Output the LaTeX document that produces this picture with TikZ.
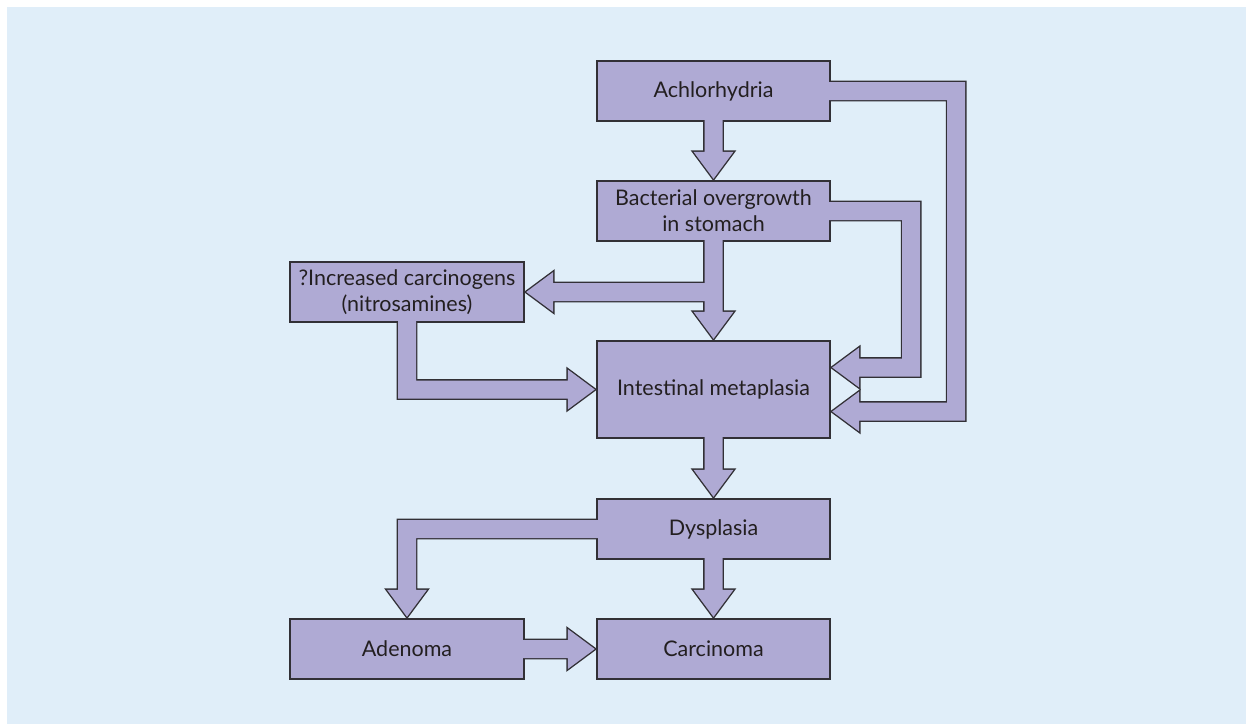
\documentclass[tikz,border=0pt]{standalone}
\usepackage{fontspec}
\setmainfont{Lato}
\usetikzlibrary{calc,backgrounds}
\definecolor{panelblue}{RGB}{224,238,249}
\definecolor{boxlilac}{RGB}{175,170,212}
\definecolor{edgegray}{RGB}{50,48,54}
\definecolor{inkgray}{RGB}{35,31,32}
\tikzset{
    box/.style={rectangle,draw=none,inner sep=0pt,minimum width=231,minimum height=58,
        align=center,text=inkgray,font=\fontsize{21.5}{26}\selectfont},
    outline/.style={draw=edgegray,line width=2.8pt,line join=miter},
    fillin/.style={fill=boxlilac},
    }
% block arrow going straight down from #2 to #3
\newcommand{\downblock}[3]{%
    \path[#1] ($(#3.north)+(0,-3)$) -- ++(-20,-27) -- ++(11,0)
        -- ($(#2.south)+(-9,-3)$) -- ++(18,0)
        -- ($(#3.north)+(9,-30)$) -- ++(11,0) -- cycle;}
% block arrow going straight right from #2 to #3
\newcommand{\rightblock}[3]{%
    \path[#1] ($(#3.west)+(-3,0)$) -- ++(-27,-20) -- ++(0,11)
        -- ($(#2.east)+(-3,-9)$) -- ++(0,18)
        -- ($(#3.west)+(-30,9)$) -- ++(0,11) -- cycle;}

\begin{document}
\begin{tikzpicture}[x=1pt,y=-1pt]
    \useasboundingbox (0,0) rectangle (1246,724);

    \node[box] (achl) at (713.5,91) {Achlorhydria};
    \node[box] (bact) at (713.5,211) {Bacterial overgrowth\\in stomach};
    \node[box,minimum width=232] (incr) at (407,292) {?Increased carcinogens\\(nitrosamines)};
    \node[box,minimum height=95] (intm) at (713.5,389.5) {Intestinal metaplasia};
    \node[box] (dysp) at (713.5,529) {Dysplasia};
    \node[box,minimum width=232] (aden) at (407,649) {Adenoma};
    \node[box] (carc) at (713.5,649) {Carcinoma};

    % arrow tips on the side of intestinal metaplasia
    \coordinate (tb) at ($(intm.east)+(3,-22)$);
    \coordinate (ta) at ($(intm.east)+(3,22)$);
    \coordinate (ti) at ($(incr.east)+(3,0)$);
    \coordinate (tm) at ($(intm.west)+(-3,0)$);
    \coordinate (td) at ($(aden.north)+(0,-3)$);

    \begin{scope}[on background layer]
    \fill[panelblue] (7,7) rectangle (1246,724);
    \foreach \layer in {outline,fillin}{
        \foreach \n in {achl,bact,incr,intm,dysp,aden,carc}
            \path[\layer] (\n.south west) rectangle (\n.north east);

        \downblock{\layer}{achl}{bact}
        \downblock{\layer}{bact}{intm}
        \downblock{\layer}{intm}{dysp}
        \downblock{\layer}{dysp}{carc}
        \rightblock{\layer}{aden}{carc}

        % bacterial overgrowth -> carcinogens
        \path[\layer] (ti) -- ++(27,-20) -- ++(0,11) -- ($(bact.south |- ti)+(0,-9)$)
            -- ++(0,18) -- ($(ti)+(27,9)$) -- ++(0,11) -- cycle;
        % carcinogens -> intestinal metaplasia
        \path[\layer] (tm) -- ++(-27,-20) -- ++(0,11) -| ($(incr.south)+(9,-3)$)
            -- ++(-18,0) |- ($(tm)+(-27,9)$) -- ++(0,11) -- cycle;
        % bacterial overgrowth -> intestinal metaplasia (side loop)
        \path[\layer] ($(bact.east)+(-3,-9)$) -| ($(tb)+(88,9)$) -- ($(tb)+(27,9)$)
            -- ++(0,11) -- (tb) -- ++(27,-20) -- ++(0,11)
            -| ($(bact.east)+(73,9)$) -- ($(bact.east)+(-3,9)$) -- cycle;
        % achlorhydria -> intestinal metaplasia (outer loop)
        \path[\layer] ($(achl.east)+(-3,-9)$) -| ($(ta)+(133,9)$) -- ($(ta)+(27,9)$)
            -- ++(0,11) -- (ta) -- ++(27,-20) -- ++(0,11)
            -| ($(achl.east)+(118,9)$) -- ($(achl.east)+(-3,9)$) -- cycle;
        % dysplasia -> adenoma
        \path[\layer] ($(dysp.west)+(3,-9)$) -| ($(td)+(-9,-27)$) -- ++(-11,0)
            -- (td) -- ++(20,-27) -- ++(-11,0) |- ($(dysp.west)+(3,9)$) -- cycle;
    }
    \end{scope}
\end{tikzpicture}
\end{document}
